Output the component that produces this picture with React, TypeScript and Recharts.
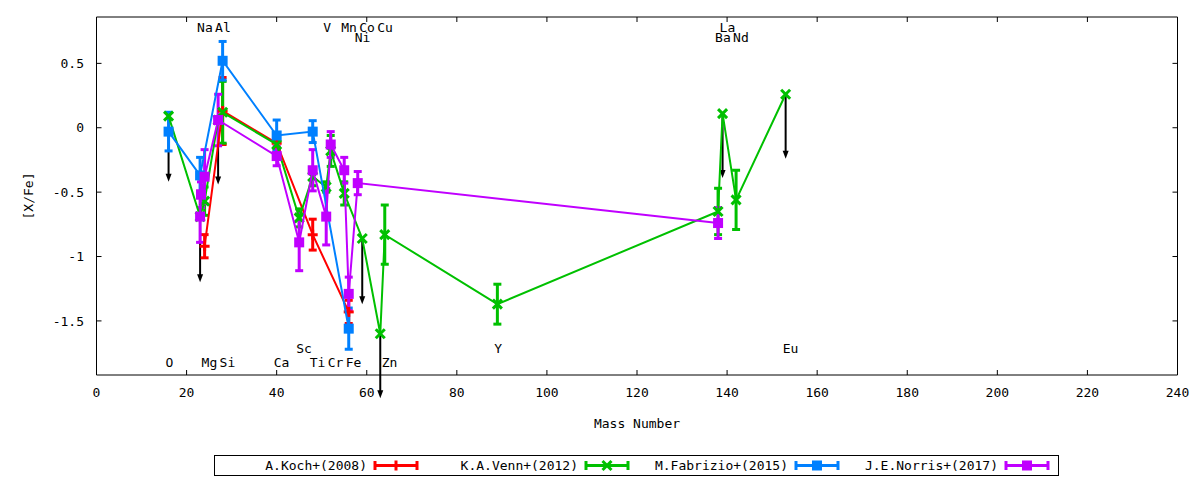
import React from "react";
import { ComposedChart, Scatter, XAxis, YAxis, ErrorBar, ReferenceLine } from "recharts";

// [X/Fe] abundance ratios vs mass number, four literature sources.
type Pt = { x: number; y: number; e?: number };

const FONT = "'DejaVu Sans Mono', 'Liberation Mono', monospace";

const RED = "#ff0000";
const GREEN = "#00c000";
const BLUE = "#0080ff";
const MAGENTA = "#c000ff";

const X_TICKS = [0, 20, 40, 60, 80, 100, 120, 140, 160, 180, 200, 220, 240];
const Y_TICKS = [0.5, 0, -0.5, -1, -1.5];

const KOCH: Pt[] = [
  { x: 24, y: -0.92, e: 0.09 },
  { x: 28, y: 0.13, e: 0.26 },
  { x: 40, y: -0.12, e: 0.05 },
  { x: 48, y: -0.83, e: 0.12 },
  { x: 56, y: -1.43, e: 0.09 },
];

// points without e are upper limits (drawn with a black arrow)
const VENN: Pt[] = [
  { x: 16, y: 0.09 },
  { x: 23, y: -0.69 },
  { x: 24, y: -0.57, e: 0.11 },
  { x: 27, y: 0.06 },
  { x: 28, y: 0.12, e: 0.24 },
  { x: 40, y: -0.13, e: 0.03 },
  { x: 45, y: -0.7, e: 0.07 },
  { x: 48, y: -0.38, e: 0.07 },
  { x: 51, y: -0.46, e: 0.04 },
  { x: 52, y: -0.18, e: 0.12 },
  { x: 55, y: -0.51, e: 0.09 },
  { x: 59, y: -0.86 },
  { x: 63, y: -1.6 },
  { x: 64, y: -0.83, e: 0.23 },
  { x: 89, y: -1.37, e: 0.155 },
  { x: 138, y: -0.65, e: 0.18 },
  { x: 139, y: 0.11 },
  { x: 142, y: -0.56, e: 0.23 },
  { x: 153, y: 0.26 },
];

const FABRIZIO: Pt[] = [
  { x: 16, y: -0.03, e: 0.15 },
  { x: 23, y: -0.37, e: 0.14 },
  { x: 28, y: 0.52, e: 0.15 },
  { x: 40, y: -0.06, e: 0.12 },
  { x: 48, y: -0.03, e: 0.085 },
  { x: 56, y: -1.56, e: 0.16 },
];

const NORRIS: Pt[] = [
  { x: 23, y: -0.69, e: 0.2 },
  { x: 23.2, y: -0.52, e: 0.1 },
  { x: 24, y: -0.38, e: 0.21 },
  { x: 27, y: 0.06, e: 0.2 },
  { x: 40, y: -0.22, e: 0.075 },
  { x: 45, y: -0.89, e: 0.22 },
  { x: 48, y: -0.33, e: 0.16 },
  { x: 51, y: -0.69, e: 0.22 },
  { x: 52, y: -0.13, e: 0.1 },
  { x: 55, y: -0.33, e: 0.1 },
  { x: 56, y: -1.29, e: 0.13 },
  { x: 58, y: -0.43, e: 0.09 },
  { x: 138, y: -0.74, e: 0.12 },
];

// upper-limit arrows: mass number, start, tip
const LIMITS = [
  { x: 16, from: 0.09, to: -0.42 },
  { x: 23, from: -0.69, to: -1.2 },
  { x: 27, from: 0.06, to: -0.44 },
  { x: 59, from: -0.86, to: -1.37 },
  { x: 63, from: -1.6, to: -2.1 },
  { x: 139, from: 0.11, to: -0.39 },
  { x: 153, from: 0.26, to: -0.24 },
];

// element names, four rows of labels
const LABELS = [
  { t: "Na", x: 23, y: 0.78 },
  { t: "Al", x: 27, y: 0.78 },
  { t: "V", x: 51, y: 0.78 },
  { t: "Mn", x: 55, y: 0.78 },
  { t: "Co", x: 59, y: 0.78 },
  { t: "Cu", x: 63, y: 0.78 },
  { t: "La", x: 139, y: 0.78 },
  { t: "Ni", x: 58, y: 0.7 },
  { t: "Ba", x: 138, y: 0.7 },
  { t: "Nd", x: 142, y: 0.7 },
  { t: "Sc", x: 45, y: -1.71 },
  { t: "Y", x: 89, y: -1.71 },
  { t: "Eu", x: 153, y: -1.71 },
  { t: "O", x: 16, y: -1.82 },
  { t: "Mg", x: 24, y: -1.82 },
  { t: "Si", x: 28, y: -1.82 },
  { t: "Ca", x: 40, y: -1.82 },
  { t: "Ti", x: 48, y: -1.82 },
  { t: "Cr", x: 52, y: -1.82 },
  { t: "Fe", x: 56, y: -1.82 },
  { t: "Zn", x: 64, y: -1.82 },
];

const SERIES = [
  { name: "A.Koch+(2008)", data: KOCH, color: RED, mark: "plus" },
  { name: "K.A.Venn+(2012)", data: VENN, color: GREEN, mark: "cross" },
  { name: "M.Fabrizio+(2015)", data: FABRIZIO, color: BLUE, mark: "square" },
  { name: "J.E.Norris+(2017)", data: NORRIS, color: MAGENTA, mark: "square" },
];

function Mark({ cx, cy, color, kind }: { cx: number; cy: number; color: string; kind: string }) {
  if (kind === "square") {
    return <rect x={cx - 5} y={cy - 5} width={10} height={10} fill={color} />;
  }
  if (kind === "cross") {
    return (
      <g stroke={color} strokeWidth={3}>
        <line x1={cx - 4.5} y1={cy - 4.5} x2={cx + 4.5} y2={cy + 4.5} />
        <line x1={cx - 4.5} y1={cy + 4.5} x2={cx + 4.5} y2={cy - 4.5} />
      </g>
    );
  }
  return (
    <g stroke={color} strokeWidth={3}>
      <line x1={cx - 5} y1={cy} x2={cx + 5} y2={cy} />
      <line x1={cx} y1={cy - 5} x2={cx} y2={cy + 5} />
    </g>
  );
}

const Arrow = (p: any) => {
  const { x1, y1, x2, y2 } = p;
  const head = 8;
  return (
    <g>
      <line x1={x1} y1={y1} x2={x2} y2={y2 - head + 1} stroke="#000" strokeWidth={2} />
      <path d={`M${x2 - 3},${y2 - head} L${x2 + 3},${y2 - head} L${x2},${y2} Z`} fill="#000" />
    </g>
  );
};

const ElementLabel = (p: any) => {
  const t = p.payload?.t ?? p.t;
  return (
    <text x={p.cx - 3} y={p.cy} dy="0.36em" fontSize={13} fontFamily={FONT} fill="#000">
      {t}
    </text>
  );
};

const NoTick = () => <g />;

function LegendBox() {
  const rightEdges = [367, 578, 788, 998];
  return (
    <svg width={1200} height={480} style={{ position: "absolute", left: 0, top: 0, pointerEvents: "none" }}>
      <rect x={214.5} y={455.5} width={844} height={20} fill="none" stroke="#000" />
      {SERIES.map((s, i) => {
        const tx = rightEdges[i];
        const sx = tx + 8;
        const mid = sx + 21;
        return (
          <g key={s.name}>
            <text x={tx} y={470} textAnchor="end" fontSize={13} fontFamily={FONT} fill="#000">
              {s.name}
            </text>
            <g stroke={s.color} strokeWidth={3}>
              <line x1={sx} y1={465.5} x2={sx + 42} y2={465.5} />
              <line x1={sx} y1={461} x2={sx} y2={470} />
              <line x1={sx + 42} y1={461} x2={sx + 42} y2={470} />
            </g>
            <Mark cx={mid} cy={465.5} color={s.color} kind={s.mark} />
          </g>
        );
      })}
    </svg>
  );
}

export default function App() {
  const axisText = { fill: "#000", fontSize: 13, fontFamily: FONT };
  return (
    <div style={{ position: "absolute", left: 0, top: 0, width: 1200, height: 480, background: "#fff", fontFamily: FONT }}>
      <ComposedChart width={1200} height={480} margin={{ top: 16, right: 21.5, left: 0, bottom: 0 }}>
        <XAxis
          type="number"
          dataKey="x"
          domain={[0, 240]}
          ticks={X_TICKS}
          allowDataOverflow
          height={105}
          tickSize={-5}
          tickMargin={18}
          axisLine={{ stroke: "#000" }}
          tickLine={{ stroke: "#000" }}
          tick={axisText}
          label={{ value: "Mass Number", position: "insideBottom", offset: 52, style: { ...axisText, textAnchor: "middle" } }}
        />
        <XAxis
          xAxisId="top"
          orientation="top"
          type="number"
          dataKey="x"
          domain={[0, 240]}
          ticks={X_TICKS}
          allowDataOverflow
          height={1}
          tickSize={-5}
          axisLine={{ stroke: "#000" }}
          tickLine={{ stroke: "#000" }}
          tick={NoTick}
        />
        <YAxis
          type="number"
          dataKey="y"
          domain={[-1.92, 0.86]}
          ticks={Y_TICKS}
          allowDataOverflow
          width={96.5}
          tickSize={-5}
          tickMargin={17.5}
          axisLine={{ stroke: "#000" }}
          tickLine={{ stroke: "#000" }}
          tick={axisText}
          label={{ value: "[X/Fe]", angle: -90, position: "insideLeft", offset: 28, style: { ...axisText, textAnchor: "middle" } }}
        />
        <YAxis
          yAxisId="right"
          orientation="right"
          type="number"
          dataKey="y"
          domain={[-1.92, 0.86]}
          ticks={Y_TICKS}
          allowDataOverflow
          width={1}
          tickSize={-5}
          axisLine={{ stroke: "#000" }}
          tickLine={{ stroke: "#000" }}
          tick={NoTick}
        />

        {LIMITS.map((a) => (
          <ReferenceLine
            key={`lim-${a.x}`}
            segment={[{ x: a.x, y: a.from }, { x: a.x, y: a.to }]}
            ifOverflow="visible"
            shape={Arrow}
          />
        ))}

        {SERIES.map((s) => [
          <Scatter
            key={`${s.name}-err`}
            data={s.data.filter((d) => d.e)}
            isAnimationActive={false}
            legendType="none"
            shape={() => <g />}
          >
            <ErrorBar dataKey="e" direction="y" width={4} strokeWidth={3} stroke={s.color} isAnimationActive={false} />
          </Scatter>,
          <Scatter
            key={s.name}
            name={s.name}
            data={s.data}
            isAnimationActive={false}
            fill={s.color}
            line={{ stroke: s.color, strokeWidth: 2 }}
            lineType="joint"
            shape={(p: any) => <Mark cx={p.cx} cy={p.cy} color={s.color} kind={s.mark} />}
          />,
        ])}

        {/* labels live on the mirror axes so those axes get drawn (same domains) */}
        <Scatter
          data={LABELS}
          xAxisId="top"
          yAxisId="right"
          isAnimationActive={false}
          legendType="none"
          shape={ElementLabel}
        />
      </ComposedChart>
      <LegendBox />
    </div>
  );
}
